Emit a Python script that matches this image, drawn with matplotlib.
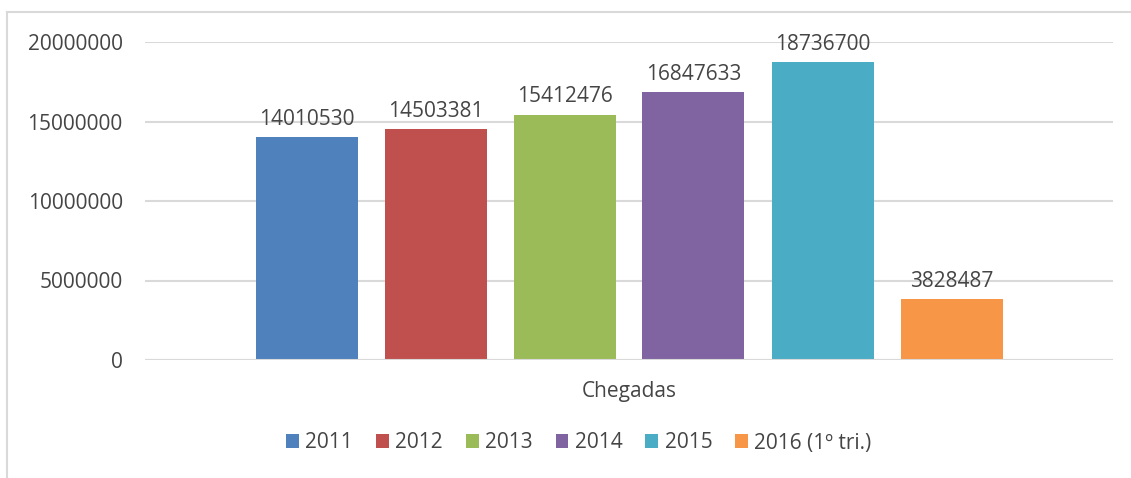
import matplotlib
matplotlib.use("Agg")
import matplotlib.pyplot as plt
from matplotlib.lines import Line2D

plt.rcParams['font.family'] = ['Open Sans', 'DejaVu Sans']

category = "Chegadas"
series_names = ["2011", "2012", "2013", "2014", "2015", "2016 (1º tri.)"]
values = [14010530, 14503381, 15412476, 16847633, 18736700, 3828487]
colors = ["#4F81BD", "#C0504D", "#9BBB59", "#8064A2", "#4BACC6", "#F79646"]
yticks = [0, 5000000, 10000000, 15000000, 20000000]

TEXT = "#454545"
GRID = "#D9D9D9"
FS = 15

W, H = 1131, 478
fig = plt.figure(figsize=(W / 100, H / 100), dpi=100)
ax = fig.add_axes([145 / W, (H - 360) / H, 968 / W, 318 / H])

pitch = 129 / 968
width = 102 / 968
n = len(values)
bars = []
for i, (name, v, c) in enumerate(zip(series_names, values, colors)):
    x = 0.5 + (i - (n - 1) / 2) * pitch
    b = ax.bar(x, v, width=width, color=c, label=name, zorder=3)
    bars.append(b)
    ax.annotate(str(v), (x, v), xytext=(0, 9), textcoords="offset points",
                ha="center", va="baseline", fontsize=FS, color=TEXT)

ax.set_xlim(0, 1)
ax.set_ylim(0, 20000000)
ax.set_yticks(yticks)
ax.set_yticklabels([str(t) for t in yticks], fontsize=FS, color=TEXT)
ax.tick_params(axis="y", length=0, pad=16)
ax.set_xticks([])
ax.yaxis.grid(True, color=GRID, linewidth=1.5, zorder=0)
for s in ax.spines.values():
    s.set_visible(False)
ax.axhline(0, color=GRID, linewidth=1.5, zorder=4)

fig.text(629 / W, 1 - 391 / H, category, ha="center", va="center",
         fontsize=FS, color=TEXT)

leg = fig.legend(handles=[b[0] for b in bars], labels=series_names,
                 loc="center", bbox_to_anchor=(579 / W, 1 - 443 / H),
                 ncol=6, frameon=False, fontsize=FS, labelcolor=TEXT,
                 handlelength=0.62, handleheight=0.65, handletextpad=0.3,
                 columnspacing=1.1, borderpad=0)

# chart area border (cropped: only left and top visible)
fig.add_artist(Line2D([7 / W, 7 / W], [0, 1 - 12 / H], transform=fig.transFigure,
                      color=GRID, linewidth=1.5))
fig.add_artist(Line2D([7 / W, 1], [1 - 12 / H, 1 - 12 / H], transform=fig.transFigure,
                      color=GRID, linewidth=1.5))

fig.savefig("out.png", dpi=100, facecolor="white")
